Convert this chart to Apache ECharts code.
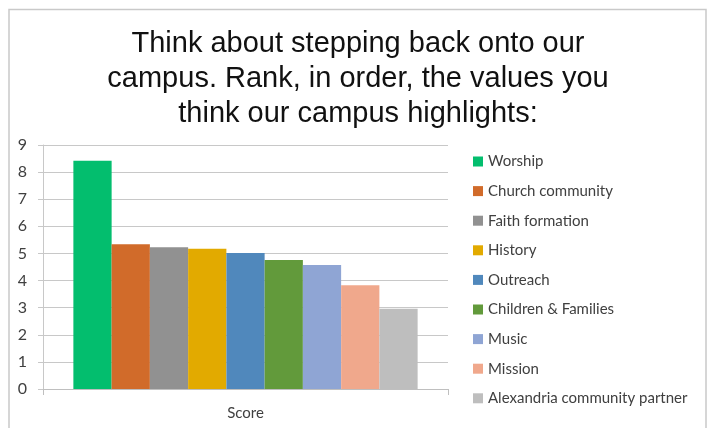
<!DOCTYPE html>
<html>
<head>
<meta charset="utf-8">
<script src="https://cdn.jsdelivr.net/npm/echarts@6/dist/echarts.min.js"></script>
<style>
  html, body { margin: 0; padding: 0; background: #ffffff; }
  #chart { width: 708px; height: 428px; }
</style>
</head>
<body>
<div id="chart"></div>
<script>
// Survey results: average rank score per campus value
const titleLines = [
  'Think about stepping back onto our',
  'campus. Rank, in order, the values you',
  'think our campus highlights:'
];
const categories = ['Score'];
const seriesNames = [
  'Worship', 'Church community', 'Faith formation', 'History', 'Outreach',
  'Children & Families', 'Music', 'Mission', 'Alexandria community partner'
];
const seriesValues = [8.42, 5.34, 5.23, 5.17, 5.02, 4.76, 4.57, 3.83, 2.96];
const seriesColors = [
  '#03BE6E', '#D16B2A', '#919191', '#E2AA00', '#5088BC',
  '#629A3B', '#8FA5D4', '#F0A88C', '#BEBEBE'
];
const yTicks = { min: 0, max: 9, interval: 1 };

const labelFont = 'Lato, "Open Sans", "Liberation Sans", sans-serif';

const chart = echarts.init(document.getElementById('chart'), null, { renderer: 'canvas' });

const series = seriesNames.map((name, i) => ({
  name: name,
  type: 'bar',
  data: [seriesValues[i]],
  itemStyle: { color: seriesColors[i] },
  barGap: '0%',
  barCategoryGap: '15%'
}));

chart.setOption({
  animation: false,
  backgroundColor: '#ffffff',
  graphic: [
    {
      type: 'rect',
      shape: { x: 9, y: 9.5, width: 697, height: 425 },
      style: { fill: 'none', stroke: '#C9C9C9', lineWidth: 1.5 },
      z: -1
    },
    {
      type: 'text',
      x: 358,
      y: 26,
      style: {
        text: titleLines.join('\n'),
        font: '29px "Liberation Sans", Arial, sans-serif',
        fill: '#111111',
        textAlign: 'center',
        textVerticalAlign: 'top',
        lineHeight: 35
      }
    }
  ],
  legend: {
    orient: 'vertical',
    left: 473,
    top: 153,
    padding: 0,
    itemWidth: 10,
    itemHeight: 10,
    itemGap: 12.6,
    icon: 'rect',
    data: seriesNames,
    textStyle: {
      fontFamily: labelFont,
      fontSize: 15,
      color: '#404040',
      lineHeight: 17
    }
  },
  grid: {
    left: 43,
    right: 260,
    top: 145,
    bottom: 39,
    containLabel: false
  },
  xAxis: {
    type: 'category',
    data: categories,
    boundaryGap: true,
    axisLine: { show: true, lineStyle: { color: '#BFBFBF', width: 1 } },
    axisTick: { show: true, alignWithLabel: false, length: 6, lineStyle: { color: '#BFBFBF' } },
    axisLabel: {
      margin: 17,
      fontFamily: labelFont,
      fontSize: 15,
      color: '#404040'
    }
  },
  yAxis: {
    type: 'value',
    min: yTicks.min,
    max: yTicks.max,
    interval: yTicks.interval,
    axisLine: { show: true, lineStyle: { color: '#C8C8C8', width: 1 } },
    axisTick: { show: true, length: 5, lineStyle: { color: '#C8C8C8' } },
    splitLine: { show: true, lineStyle: { color: '#C8C8C8', width: 1 } },
    axisLabel: {
      margin: 16,
      fontFamily: labelFont,
      fontSize: 16,
      color: '#404040'
    }
  },
  series: series
});
</script>
</body>
</html>
